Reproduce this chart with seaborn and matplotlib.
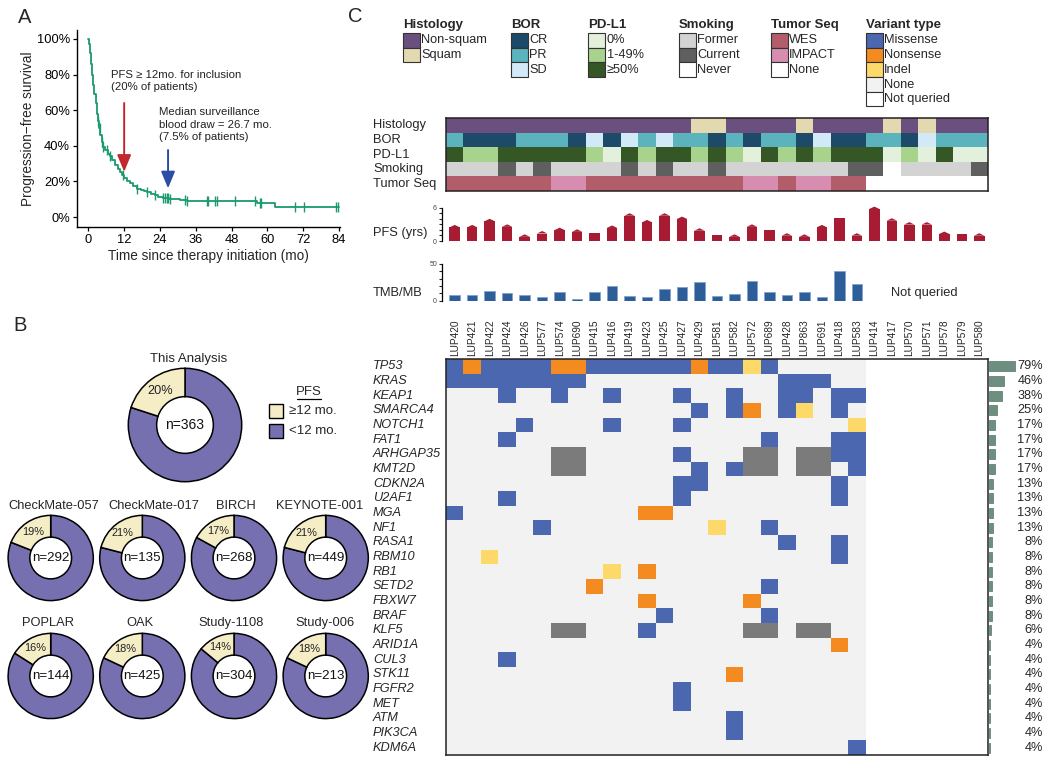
import numpy as np
import pandas as pd
import matplotlib
matplotlib.use("Agg")
import matplotlib.pyplot as plt
import seaborn as sns
from matplotlib.colors import ListedColormap
from matplotlib.patches import Rectangle

sns.set_theme(style="ticks")
plt.rcParams["font.family"] = ["Liberation Sans", "DejaVu Sans"]
plt.rcParams["axes.unicode_minus"] = True

W, H, DPI = 1050, 762, 100
PT = DPI / 72.0

# ---------------- Panel A data (Kaplan-Meier) ----------------
km_time = [0, 0.3, 0.6, 1, 1.3, 1.6, 2, 2.4, 2.8, 3.2, 3.6, 4, 4.5, 5, 5.6, 6.5, 7.3, 8, 9,
           9.8, 10.6, 11.3, 12, 13, 14, 15, 16.2, 17.5, 18.5, 19.6, 21, 22.3, 23.5, 25, 27,
           28.5, 30.7, 33, 56.5, 62.5, 84]
km_surv = [100, 97, 92, 86, 80, 74, 69, 64, 58, 54, 50, 46, 42, 39.5, 37.5, 35.5, 34, 32, 29,
           27, 25.4, 23.5, 22, 20.5, 19, 17.5, 16, 15, 14.6, 14.2, 13, 12.4, 11.5, 10.8, 10.4,
           10.1, 9.4, 9, 7.7, 5.4, 5.4]
censor_times = [3.4, 3.9, 4.5, 5.0, 6.2, 7.3, 11.7, 16.2, 19.6, 22.3, 25.1, 25.7, 26.2, 26.8,
                27.4, 32.4, 33.0, 39.7, 40.2, 42.5, 43.0, 49.1, 55.8, 57.5, 58.0, 69.2, 72.2,
                83.1, 83.7]
inclusion_month = 12
surveillance_month = 26.7

# ---------------- Panel B data ----------------
main_title = "This Analysis"
main_pct = 20
main_n = 363
trial_names = ["CheckMate-057", "CheckMate-017", "BIRCH", "KEYNOTE-001",
               "POPLAR", "OAK", "Study-1108", "Study-006"]
trial_pct = [19, 21, 17, 21, 16, 18, 14, 18]
trial_n = [292, 135, 268, 449, 144, 425, 304, 213]
pfs_groups = ["\u226512 mo.", "<12 mo."]

# ---------------- Panel C data ----------------
patients = ["LUP420", "LUP421", "LUP422", "LUP424", "LUP426", "LUP577", "LUP574", "LUP690",
            "LUP415", "LUP416", "LUP419", "LUP423", "LUP425", "LUP427", "LUP429", "LUP581",
            "LUP582", "LUP572", "LUP689", "LUP428", "LUP863", "LUP691", "LUP418", "LUP583",
            "LUP414", "LUP417", "LUP570", "LUP571", "LUP578", "LUP579", "LUP580"]
histology = ["Non-squam"] * 14 + ["Squam"] * 2 + ["Non-squam"] * 4 + ["Squam"] + \
            ["Non-squam"] * 4 + ["Squam", "Non-squam", "Squam"] + ["Non-squam"] * 3
bor = ["PR", "CR", "CR", "CR", "PR", "PR", "PR", "CR", "SD", "CR", "SD", "PR", "SD", "PR", "PR",
       "CR", "PR", "CR", "PR", "PR", "CR", "SD", "CR", "CR", "PR", "PR", "CR", "SD", "PR", "PR", "PR"]
pdl1 = ["\u226550%", "1-49%", "1-49%", "\u226550%", "\u226550%", "\u226550%", "\u226550%", "\u226550%",
        "1-49%", "0%", "\u226550%", "1-49%", "\u226550%", "\u226550%", "1-49%", "\u226550%",
        "1-49%", "0%", "\u226550%", "1-49%", "\u226550%", "1-49%", "\u226550%", "\u226550%",
        "\u226550%", "0%", "1-49%", "0%", "\u226550%", "0%", "0%"]
smoking = ["Former", "Former", "Former", "Current", "Former", "Current", "Former", "Former",
           "Former", "Former", "Current", "Former", "Current", "Former", "Former", "Current",
           "Former", "Former", "Former", "Former", "Former", "Former", "Former", "Current",
           "Current", "Never", "Former", "Former", "Former", "Former", "Current"]
tumor_seq = ["WES"] * 6 + ["IMPACT"] * 2 + ["WES"] * 9 + ["IMPACT"] * 2 + ["WES"] + \
            ["IMPACT"] * 2 + ["WES"] * 2 + ["None"] * 7
pfs_years = [2.9, 2.9, 4.0, 3.0, 1.2, 1.8, 2.4, 2.1, 1.4, 2.8, 5.0, 3.8, 5.0, 4.4, 2.3, 1.0,
             1.2, 3.0, 2.0, 1.4, 1.2, 2.9, 4.1, 1.4, 6.2, 4.1, 3.4, 3.4, 1.7, 1.2, 1.4]
pfs_ongoing = [True, True, True, True, True, True, True, True, False, True, True, True, True,
               True, True, False, True, True, False, True, True, True, False, True, True, True,
               True, True, True, False, True]
tmb = [7.7, 7.7, 13.2, 10, 7.7, 5.5, 12.3, 2.3, 12.3, 20.5, 6.8, 4.5, 16, 19, 25.5, 6.8,
       9.5, 27, 12.3, 7.7, 11.4, 5, 41, 22.7]
genes = ["TP53", "KRAS", "KEAP1", "SMARCA4", "NOTCH1", "FAT1", "ARHGAP35", "KMT2D", "CDKN2A",
         "U2AF1", "MGA", "NF1", "RASA1", "RBM10", "RB1", "SETD2", "FBXW7", "BRAF", "KLF5",
         "ARID1A", "CUL3", "STK11", "FGFR2", "MET", "ATM", "PIK3CA", "KDM6A"]
gene_pct = [79, 46, 38, 25, 17, 17, 17, 17, 13, 13, 13, 13, 8, 8, 8, 8, 8, 8, 6, 4, 4, 4, 4, 4, 4, 4, 4]
# per gene, queried patients only: . none, M missense, N nonsense, I indel, G grey
variant_rows = [
    "MNMMMMNNMMMMMMNMMIM.....",
    "MMMMMMMM...........MMM..",
    "...M..M..M...M..M..MM.MM",
    "..............M.MN.MI.M.",
    "....M....M...M.........I",
    "...M..............M...MM",
    "......GG.....M...GG.GGMM",
    "......GG......M.MGG.GG.M",
    ".............MM.......M.",
    "...M.........M........M.",
    "M..........NN...........",
    ".....M.........I..M.....",
    "...................M..M.",
    "..I...................M.",
    ".........I.N............",
    "........N.........M.....",
    "...........N.....N......",
    "............M.....M.....",
    "......GG...M.....GG.GG..",
    "......................N.",
    "...M....................",
    "................N.......",
    ".............M..........",
    ".............M..........",
    "................M.......",
    "................M.......",
    ".......................M",
]

# ---------------- styles ----------------
km_color = "#1a9a6e"
donut_purple = "#7670b1"
donut_tan = "#f4edc6"
track_names = ["Histology", "BOR", "PD-L1", "Smoking", "Tumor Seq"]
track_values = [histology, bor, pdl1, smoking, tumor_seq]
track_levels = [["Non-squam", "Squam"], ["CR", "PR", "SD"], ["0%", "1-49%", "\u226550%"],
                ["Former", "Current", "Never"], ["WES", "IMPACT", "None"]]
track_colors = [["#6a4f7f", "#e3d9b1"], ["#1c4a68", "#5bb3be", "#d2eaf8"],
                ["#e3f0dc", "#a7d38d", "#355625"], ["#d3d3d3", "#5f5f5f", "#ffffff"],
                ["#b35d6b", "#d78db0", "#ffffff"]]
variant_code = {".": 0, "M": 1, "N": 2, "I": 3, "G": 4, "X": 5}
variant_colors = ["#f2f2f2", "#4a67b0", "#f38b20", "#fdd96a", "#7b7b7b", "#ffffff"]
variant_legend = ["Missense", "Nonsense", "Indel", "None", "Not queried"]
variant_legend_colors = ["#4a67b0", "#f38b20", "#fdd96a", "#f2f2f2", "#ffffff"]
pfs_color = "#a71c33"
tmb_color = "#2d5e98"
pct_color = "#6d8f80"

fig = plt.figure(figsize=(W / DPI, H / DPI), dpi=DPI)


def add_ax(l, t, r, b, **kw):
    return fig.add_axes([l / W, 1 - b / H, (r - l) / W, (b - t) / H], **kw)


# ================= Panel A =================
axA = add_ax(77, 30, 340, 227)
sns.lineplot(x=km_time, y=km_surv, drawstyle="steps-post", color=km_color, lw=1.3,
             estimator=None, ax=axA)
idx = np.searchsorted(km_time, censor_times, side="right") - 1
censor_surv = np.array(km_surv)[idx]
axA.plot(censor_times, censor_surv, ls="none", marker="|", ms=7, mew=1.0, color=km_color)
axA.set_xlim(-3.8, 84.3)
axA.set_ylim(-5.6, 105)
axA.set_xticks(range(0, 85, 12))
axA.set_yticks(range(0, 101, 20))
axA.set_yticklabels([f"{v}%" for v in range(0, 101, 20)])
sns.despine(ax=axA)
for sp in ["left", "bottom"]:
    axA.spines[sp].set_linewidth(1.0)
    axA.spines[sp].set_color("black")
axA.tick_params(length=3, width=0.9, labelsize=9.3, pad=2, color="black", labelcolor="black")
axA.set_xlabel("Time since therapy initiation (mo)", fontsize=9.8, labelpad=2)
axA.set_ylabel("Progression\u2212free survival", fontsize=9.8, labelpad=1)
axA.annotate("", xy=(inclusion_month, 25.4), xytext=(inclusion_month, 64),
             arrowprops=dict(arrowstyle="-|>,head_width=0.35,head_length=0.85",
                             color="#c1272d", lw=1.4, shrinkA=0, shrinkB=0))
axA.annotate("", xy=(surveillance_month, 16.1), xytext=(surveillance_month, 37.6),
             arrowprops=dict(arrowstyle="-|>,head_width=0.35,head_length=0.85",
                             color="#2b4ea2", lw=1.4, shrinkA=0, shrinkB=0))
axA.text(7.5, 82.5, "PFS \u2265 12mo. for inclusion\n(20% of patients)", fontsize=8.2,
         va="top", ha="left", linespacing=1.3, color="#222222")
axA.text(23.8, 61.5, "Median surveillance\nblood draw = 26.7 mo.\n(7.5% of patients)",
         fontsize=8.2, va="top", ha="left", linespacing=1.3, color="#222222")


# ================= Panel B =================
def donut(cx, cy, r, hole, pct, n, title, title_x, title_y, pct_fs, n_fs, title_fs):
    m = 1.06
    ax = add_ax(cx - r * m, cy - r * m, cx + r * m, cy + r * m)
    ax.pie([100 - pct, pct], colors=[donut_purple, donut_tan], startangle=90,
           counterclock=False, radius=1,
           wedgeprops=dict(width=1 - hole, edgecolor="black", linewidth=1.1))
    ax.set_xlim(-m, m)
    ax.set_ylim(-m, m)
    ax.set_aspect("equal")
    ang = np.deg2rad(90 + pct * 1.8)
    rr = (1 + hole) / 2
    ax.text(rr * np.cos(ang), rr * np.sin(ang), f"{pct}%", ha="center", va="center",
            fontsize=pct_fs, color="#222222")
    ax.text(0, 0, f"n={n}", ha="center", va="center", fontsize=n_fs, color="#111111")
    fig.text(title_x / W, 1 - title_y / H, title, ha="center", va="center", fontsize=title_fs)


donut(185, 425, 56.7, 0.5, main_pct, main_n, main_title, 189, 359, 9.2, 10, 9.5)
small_cx = [50.7, 142.3, 234, 325.7]
small_cy = [558, 676]
small_title_x = [[54, 154, 236, 320], [48.3, 140.3, 231.3, 325]]
small_title_y = [506, 623]
for k, (name, p, n) in enumerate(zip(trial_names, trial_pct, trial_n)):
    row, col = divmod(k, 4)
    donut(small_cx[col], small_cy[row], 42.6, 0.49, p, n, name, small_title_x[row][col],
          small_title_y[row], 7.9, 9.6, 9.3)

# ================= Panel C =================
# annotation tracks
axT = add_ax(446, 118, 988, 191)
for r, (vals, levels, cols) in enumerate(zip(track_values, track_levels, track_colors)):
    codes = np.full((len(track_names), len(patients)), np.nan)
    codes[r] = [levels.index(v) for v in vals]
    sns.heatmap(codes, cmap=ListedColormap(cols), vmin=-0.5, vmax=len(cols) - 0.5,
                cbar=False, ax=axT, xticklabels=False, yticklabels=track_names)
axT.set_yticklabels(track_names, rotation=0, ha="left", fontsize=9.3)
axT.tick_params(axis="y", length=0, pad=(446 - 373) / PT)
axT.tick_params(axis="x", length=0)
for sp in axT.spines.values():
    sp.set_visible(True)
    sp.set_color("#222222")
    sp.set_linewidth(1.1)

# PFS bars
axP = add_ax(446, 207.7, 988, 241)
cap = 0.45
body = [h - cap if o else h for h, o in zip(pfs_years, pfs_ongoing)]
sns.barplot(x=patients, y=body, order=patients, color=pfs_color, saturation=1, width=0.6,
            linewidth=0, ax=axP)
for i, (h, o) in enumerate(zip(pfs_years, pfs_ongoing)):
    if o:
        axP.fill([i - 0.3, i, i + 0.3], [h - cap, h, h - cap], color=pfs_color, lw=0,
                 clip_on=False)
axP.set_xlim(-0.5, len(patients) - 0.5)
axP.set_ylim(0, 6)
axP.set_yticks(range(0, 7))
axP.set_yticklabels(["0", "", "", "", "", "", "6"])
axP.set_xticks([])
axP.set_xlabel("")
axP.set_ylabel("")
sns.despine(ax=axP, bottom=True)
axP.spines["left"].set_position(("outward", 3))
axP.spines["left"].set_linewidth(0.9)
axP.spines["left"].set_color("black")
axP.tick_params(axis="y", length=2.5, width=0.8, labelsize=5, pad=1, labelcolor="#444444")
axP.patch.set_alpha(0)

# TMB bars
axB = add_ax(446, 264, 988, 300.7)
sns.barplot(x=patients[:len(tmb)], y=tmb, order=patients, color=tmb_color, saturation=1,
            width=0.6, edgecolor="#7fa3cf", linewidth=0.6, ax=axB)
axB.set_xlim(-0.5, len(patients) - 0.5)
axB.set_ylim(0, 50)
axB.set_yticks(range(0, 51, 10))
axB.set_yticklabels(["0", "", "", "", "", "50"])
axB.set_xticks([])
axB.set_xlabel("")
axB.set_ylabel("")
sns.despine(ax=axB, bottom=True)
axB.spines["left"].set_position(("outward", 3))
axB.spines["left"].set_linewidth(0.9)
axB.spines["left"].set_color("black")
axB.tick_params(axis="y", length=2.5, width=0.8, labelsize=5, pad=1, labelcolor="#444444")
axB.patch.set_alpha(0)
axB.text(26.85, 10.5, "Not queried", ha="center", va="center", fontsize=9.3)

# mutation matrix
mat = np.array([[variant_code[c] for c in row + "X" * (len(patients) - len(row))]
                for row in variant_rows])
axM = add_ax(446, 359, 988, 755)
sns.heatmap(mat, cmap=ListedColormap(variant_colors), vmin=-0.5, vmax=5.5, cbar=False,
            ax=axM, xticklabels=patients, yticklabels=genes)
axM.xaxis.tick_top()
axM.set_xticklabels(patients, rotation=90, fontsize=7.3)
axM.set_yticklabels(genes, rotation=0, ha="left", fontsize=9.2, fontstyle="italic")
axM.tick_params(axis="x", length=0, pad=2, top=True, bottom=False, labeltop=True,
                labelbottom=False)
axM.tick_params(axis="y", length=0, pad=(446 - 373) / PT)
for sp in axM.spines.values():
    sp.set_visible(True)
    sp.set_color("#222222")
    sp.set_linewidth(1.1)

# gene frequency bars
axF = add_ax(989, 359, 1022, 755)
sns.barplot(x=gene_pct, y=genes, order=genes, orient="h", color=pct_color, saturation=1,
            width=0.68, edgecolor="#557566", linewidth=0.5, ax=axF)
axF.set_xlim(0, 100)
axF.set_ylim(len(genes) - 0.5, -0.5)
axF.axis("off")
for i, p in enumerate(gene_pct):
    axF.text((1043 - 989) / 33.0, i, f"{p}%", transform=axF.get_yaxis_transform(),
             ha="right", va="center", fontsize=9.2)

# ================= overlay: panel labels, legends, side texts =================
axO = add_ax(0, 0, W, H)
axO.set_xlim(0, W)
axO.set_ylim(H, 0)
axO.axis("off")

axO.text(18, 23, "A", fontsize=14.5, ha="left", va="baseline")
axO.text(13, 331, "B", fontsize=14.5, ha="left", va="baseline")
axO.text(348, 22, "C", fontsize=14.5, ha="left", va="baseline")

# Panel B legend
axO.text(309, 392, "PFS", fontsize=9.5, ha="center", va="center")
axO.plot([297, 321], [398.5, 398.5], color="black", lw=0.9)
for k, (lab, colr) in enumerate(zip(pfs_groups, [donut_tan, donut_purple])):
    y0 = 404 + k * 20
    axO.add_patch(Rectangle((269, y0), 14, 14, facecolor=colr, edgecolor="black", lw=1.0))
    axO.text(289, y0 + 7, lab, fontsize=9.5, ha="left", va="center")

# Panel C side labels
axO.text(373, 233, "PFS (yrs)", fontsize=9.3, ha="left", va="center")
axO.text(373, 293, "TMB/MB", fontsize=9.3, ha="left", va="center")

# Panel C legends
legend_x = [402.7, 510.7, 588.3, 679, 770.7, 865.7]
legend_titles = track_names[:4] + ["Tumor Seq", "Variant type"]
legend_labels = track_levels + [variant_legend]
legend_cols = track_colors + [variant_legend_colors]
for x0, title, labs, cols in zip(legend_x, legend_titles, legend_labels, legend_cols):
    axO.text(x0, 25, title, fontsize=9.5, fontweight="bold", ha="left", va="center")
    for k, (lab, colr) in enumerate(zip(labs, cols)):
        y0 = 33 + k * 14.7
        axO.add_patch(Rectangle((x0, y0), 17, 14.7, facecolor=colr, edgecolor="#333333",
                                lw=0.8))
        axO.text(x0 + 18.5, y0 + 7.4, lab, fontsize=9.2, ha="left", va="center")

fig.savefig("out.png", dpi=DPI, facecolor="white")
